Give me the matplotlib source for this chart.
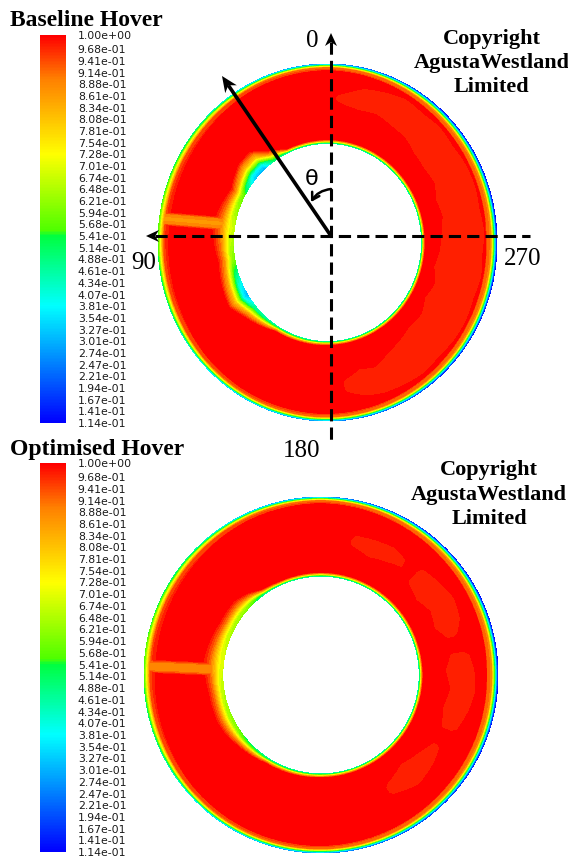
import numpy as np
import matplotlib
matplotlib.use('Agg')
import matplotlib.pyplot as plt
from matplotlib.colors import LinearSegmentedColormap, Normalize
from matplotlib.cm import ScalarMappable
from matplotlib.patches import Polygon

W, H = 568, 861

# legend of the contour plot (top -> bottom)
legend_values = [1.00, 0.968, 0.941, 0.914, 0.888, 0.861, 0.834, 0.808, 0.781, 0.754,
                 0.728, 0.701, 0.674, 0.648, 0.621, 0.594, 0.568, 0.541, 0.514, 0.488,
                 0.461, 0.434, 0.407, 0.381, 0.354, 0.327, 0.301, 0.274, 0.247, 0.221,
                 0.194, 0.167, 0.141, 0.114]

cmap_values = [0.114, 0.381, 0.541, 0.555, 0.728, 0.90, 1.0]
cmap_colors = ['#0000ff', '#00ffff', '#00ff40', '#50ff00', '#ffff00', '#ff8000', '#ff0000']

hub_r = 0.555   # inner radius / outer radius

# stations round the disc, deg anticlockwise from 12 o'clock (90 = left, 270 = right)
theta_st = [0, 25, 35, 42, 50, 62, 82, 100, 115, 122, 130, 148, 180, 225, 270, 315, 360]

# shape of the wall layers (0 = edge of layer, 1 = wall)
tip_eta = [0, 0.1, 0.45, 0.55, 0.68, 0.8, 0.9, 1.0]
tip_frac = [0, 0.10, 0.14, 0.30, 0.50, 0.70, 0.90, 1.0]
hub_eta = [0, 0.15, 0.4, 0.6, 0.8, 1.0]
hub_frac = [0, 0.12, 0.30, 0.60, 0.90, 1.0]
wake_eta = [0, 0.6, 1.0]
wake_frac = [1.0, 0.85, 0.0]

# baseline hover
base_tip_min = [0.25, 0.32, 0.38, 0.42, 0.46, 0.50, 0.55, 0.50, 0.46, 0.42, 0.38, 0.32, 0.25, 0.15, 0.114, 0.13, 0.25]
base_tip_thick = [0.04, 0.045, 0.05, 0.055, 0.06, 0.065, 0.07, 0.065, 0.06, 0.055, 0.05, 0.045, 0.045, 0.06, 0.07, 0.06, 0.04]
base_hub_min = [0.45, 0.45, 0.50, 0.30, 0.32, 0.56, 0.66, 0.58, 0.36, 0.30, 0.44, 0.45, 0.45, 0.45, 0.45, 0.45, 0.45]
base_hub_thick = [0.025, 0.025, 0.08, 0.14, 0.14, 0.10, 0.15, 0.11, 0.13, 0.14, 0.10, 0.035, 0.025, 0.025, 0.025, 0.025, 0.025]
base_patch_theta = [184, 188, 195, 202, 210, 218, 226, 234, 242, 250, 258, 266, 274, 282,
                    290, 298, 306, 314, 322, 330, 338, 346, 352, 356, 359]
base_patch_depth = [0] + [0.045] * 23 + [0]
base_patch_lo = [0.80, 0.76, 0.72, 0.74, 0.70, 0.68, 0.66, 0.67, 0.64, 0.66, 0.63, 0.65, 0.66, 0.68,
                 0.67, 0.70, 0.69, 0.70, 0.73, 0.74, 0.76, 0.75, 0.76, 0.78, 0.80]
base_patch_hi = [0.80, 0.86, 0.90, 0.92, 0.93, 0.94, 0.93, 0.94, 0.94, 0.93, 0.94, 0.93, 0.94, 0.93,
                 0.94, 0.94, 0.93, 0.94, 0.93, 0.94, 0.92, 0.90, 0.86, 0.84, 0.80]
base_wake_y = [0.10, 0.135]     # wake centre height at hub, at tip
base_wake = (0.045, 0.85)       # half width, value

# optimised hover
opt_tip_min = [0.25, 0.32, 0.38, 0.42, 0.46, 0.50, 0.55, 0.50, 0.46, 0.42, 0.38, 0.32, 0.25, 0.15, 0.114, 0.13, 0.25]
opt_tip_thick = [0.04, 0.045, 0.05, 0.055, 0.06, 0.065, 0.07, 0.065, 0.06, 0.055, 0.05, 0.045, 0.045, 0.06, 0.07, 0.06, 0.04]
opt_hub_min = [0.45, 0.45, 0.45, 0.52, 0.60, 0.62, 0.68, 0.64, 0.60, 0.58, 0.52, 0.45, 0.45, 0.45, 0.45, 0.45, 0.45]
opt_hub_thick = [0.025, 0.025, 0.035, 0.07, 0.10, 0.10, 0.13, 0.10, 0.10, 0.09, 0.07, 0.035, 0.025, 0.025, 0.025, 0.025, 0.025]
opt_patch_theta = [205, 212, 222, 232, 238, 243, 248, 256, 264, 272, 278, 283, 287, 292, 300,
                   308, 316, 320, 324, 330, 338, 346, 351]
opt_patch_depth = [0, 0.045, 0.045, 0.045, 0.045, 0, 0.045, 0.045, 0.045, 0.045, 0.045, 0, 0.045,
                   0.045, 0.045, 0.045, 0.045, 0, 0.045, 0.045, 0.045, 0.045, 0]
opt_patch_lo = [0.75, 0.70, 0.66, 0.69, 0.72, 0.75, 0.72, 0.70, 0.72, 0.69, 0.72, 0.75, 0.72, 0.68,
                0.70, 0.67, 0.70, 0.75, 0.74, 0.72, 0.70, 0.73, 0.75]
opt_patch_hi = [0.75, 0.80, 0.84, 0.82, 0.80, 0.75, 0.84, 0.87, 0.89, 0.88, 0.86, 0.75, 0.82, 0.86,
                0.88, 0.86, 0.84, 0.75, 0.82, 0.84, 0.83, 0.82, 0.75]
opt_wake_y = [0.03, 0.05]
opt_wake = (0.045, 0.87)


def build_field(tip_min, tip_thick, hub_min, hub_thick, p_th, p_depth, p_lo, p_hi, wake_y, wake):
    th = np.linspace(0, 360, 1441)
    r = np.linspace(hub_r, 1.0, 361)
    T, R = np.meshgrid(th, r)
    X = -R * np.sin(np.radians(T))
    Y = R * np.cos(np.radians(T))
    lo = np.interp(T, p_th, p_lo, period=360)
    hi = np.interp(T, p_th, p_hi, period=360)
    inside = np.clip((R - lo) / 0.015, 0, 1) * np.clip((hi - R) / 0.015, 0, 1)
    core = 1 - np.interp(T, p_th, p_depth, period=360) * inside
    tt = np.interp(T, theta_st, tip_thick)
    eta = np.clip((R - (1 - tt)) / tt, 0, 1)
    Z = core - (core - np.interp(T, theta_st, tip_min)) * np.interp(eta, tip_eta, tip_frac)
    ht = np.interp(T, theta_st, hub_thick)
    eta = np.clip((hub_r + ht - R) / ht, 0, 1)
    Z = np.minimum(Z, core - (core - np.interp(T, theta_st, hub_min)) * np.interp(eta, hub_eta, hub_frac))
    yw = np.interp(R, [hub_r, 1.0], wake_y)
    wk = 1 - (1 - wake[1]) * np.interp(np.abs(Y - yw) / wake[0], wake_eta, wake_frac)
    Z = np.where(X < 0, np.minimum(Z, wk), Z)
    return X, Y, np.clip(Z, 0.114, 1.0)


def px_axes(x0, y0, x1, y1):
    return fig.add_axes([x0 / W, 1 - y1 / H, (x1 - x0) / W, (y1 - y0) / H])


cmap = LinearSegmentedColormap.from_list(
    'fluent', [((v - 0.114) / 0.886, c) for v, c in zip(cmap_values, cmap_colors)])
levels = sorted(legend_values)
band_colors = cmap(np.linspace(0, 1, len(levels) - 1))

fig = plt.figure(figsize=(W / 100, H / 100), dpi=100)

panels = [
    ((158, 64, 497, 421), (40, 35, 66, 423),
     (base_tip_min, base_tip_thick, base_hub_min, base_hub_thick,
      base_patch_theta, base_patch_depth, base_patch_lo, base_patch_hi, base_wake_y, base_wake)),
    ((144, 497, 498, 853), (40, 463, 66, 852),
     (opt_tip_min, opt_tip_thick, opt_hub_min, opt_hub_thick,
      opt_patch_theta, opt_patch_depth, opt_patch_lo, opt_patch_hi, opt_wake_y, opt_wake)),
]

for box, cbox, args in panels:
    ax = px_axes(*box)
    X, Y, Z = build_field(*args)
    ax.contourf(X, Y, Z, levels=levels, colors=band_colors)
    ax.set_xlim(-1, 1)
    ax.set_ylim(-1, 1)
    ax.axis('off')

    cax = px_axes(*cbox)
    cb = fig.colorbar(ScalarMappable(Normalize(0.114, 1.0), cmap), cax=cax)
    cb.set_ticks(legend_values)
    cb.set_ticklabels([f'{v:.2e}' for v in legend_values])
    cb.outline.set_visible(False)
    cax.tick_params(length=0, pad=8.5, labelsize=7.8, labelcolor='#1a1a1a')

# overlay for titles, axes of the disc and text
ov = fig.add_axes([0, 0, 1, 1])
ov.set_xlim(0, W)
ov.set_ylim(H, 0)
ov.axis('off')
ov.patch.set_alpha(0)

serif = 'Liberation Serif'
ov.text(10, 26, 'Baseline Hover', family=serif, weight='bold', fontsize=17)
ov.text(10, 455, 'Optimised Hover', family=serif, weight='bold', fontsize=17)
for (cx, ys) in [(491.5, (44, 68, 92.5)), (489, (475, 500, 523.5))]:
    for s, y in zip(['Copyright', 'AgustaWestland', 'Limited'], ys):
        ov.text(cx, y, s, family=serif, weight='bold', fontsize=16, ha='center')

ov.text(312.5, 47, '0', family=serif, fontsize=18, ha='center')
ov.text(143.5, 269, '90', family=serif, fontsize=18, ha='center')
ov.text(522.7, 265, '270', family=serif, fontsize=18, ha='center')
ov.text(301.3, 457, '180', family=serif, fontsize=18, ha='center')
ov.text(311.7, 185, 'θ', fontsize=16, ha='center')


def head(tip, tail, length, width):
    tip = np.array(tip, float)
    u = tip - np.array(tail, float)
    u /= np.hypot(*u)
    n = np.array([-u[1], u[0]])
    base = tip - length * u
    pts = [tip, base + width / 2 * n, tip - 0.7 * length * u, base - width / 2 * n]
    ov.add_patch(Polygon(pts, closed=True, color='k', lw=0))
    return tip - 0.7 * length * u


dash = dict(color='k', lw=2.2, dashes=(4, 2))
end = head((331, 33), (331, 442), 13, 12)
ov.plot([331, 331], [end[1], 442], **dash)
end = head((146, 236), (530, 236), 13, 12)
ov.plot([end[0], 530], [236, 236], **dash)

end = head((222, 76), (331, 236), 16, 14)
ov.plot([331, end[0]], [236, end[1]], color='k', lw=2.6, solid_capstyle='butt')

ov.annotate('', xy=(311, 202), xytext=(331, 189),
            arrowprops=dict(arrowstyle='->,head_length=0.5,head_width=0.3', lw=1.8,
                            color='k', shrinkA=0, shrinkB=0,
                            connectionstyle='arc3,rad=0.25'))

fig.savefig('out.png', dpi=100)
